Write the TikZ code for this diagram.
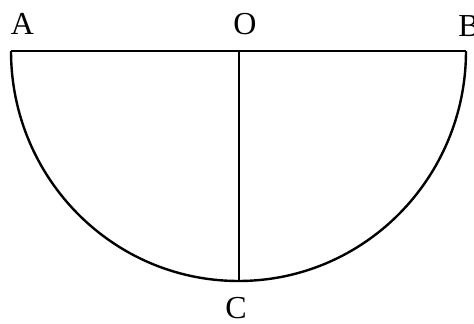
\documentclass[tikz,border=0pt]{standalone}
\usepackage{fontspec}
\setmainfont{Liberation Serif}
\begin{document}
\begin{tikzpicture}[x=1pt,y=-1pt,line width=2.4pt,
  pointlabel/.style={inner sep=0pt,font=\fontsize{32}{32}\selectfont}]
\useasboundingbox (0,0) rectangle (474,324);
\coordinate (A) at (11,51);
\coordinate (O) at (239,51);
\coordinate (B) at (466,51);
\coordinate (C) at (239,281);

\draw[line width=2.8pt] (A) -- (B);
\draw (O) -- (C);
\draw (A) arc[start angle=180, end angle=0, x radius=227.5, y radius=230];

\node[pointlabel] (labA) at (22.5,23.5) {A};
\node[pointlabel] (labO) at (245,24) {O};
\node[pointlabel] (labB) at (469,26) {B};
\node[pointlabel] (labC) at (236,308) {C};
\end{tikzpicture}
\end{document}
